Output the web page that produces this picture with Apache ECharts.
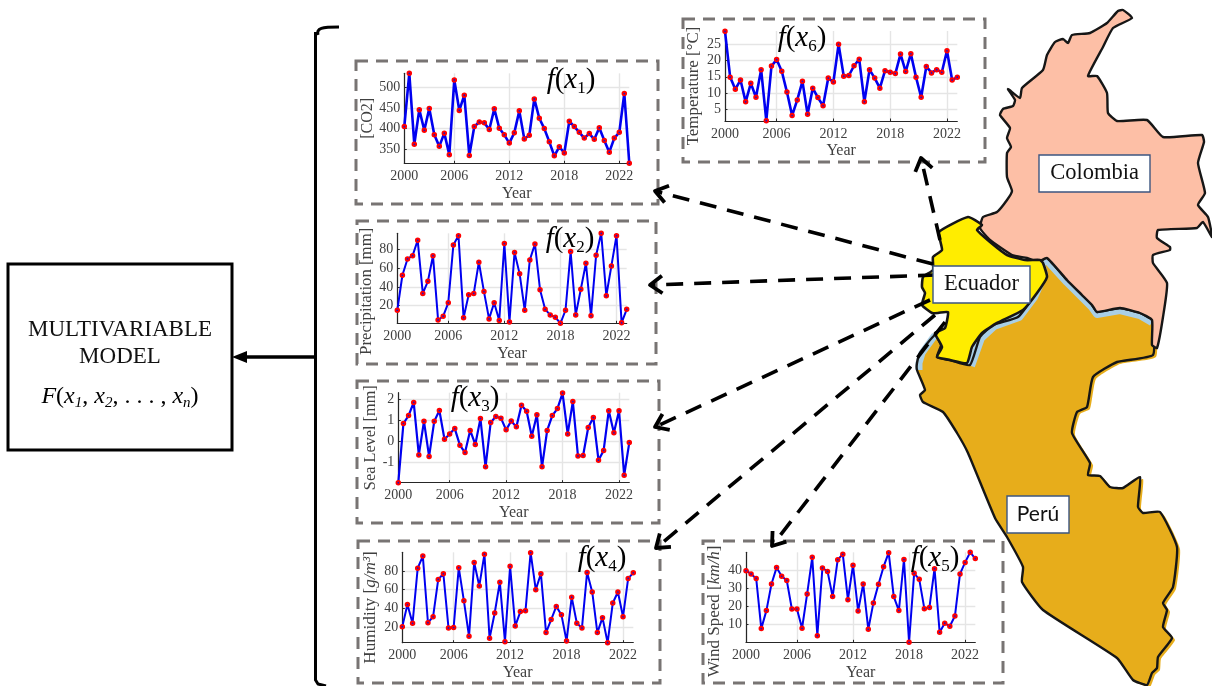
<!DOCTYPE html>
<html><head><meta charset="utf-8">
<style>html,body{margin:0;padding:0;background:#fff}#c{width:1212px;height:686px}</style>
<script src="https://cdn.jsdelivr.net/npm/echarts@6/dist/echarts.min.js"></script>
</head><body><div id="c"></div>
<script>
// ---- data ----
const tickIndex = [0, 10, 21, 32, 43];
const tickYears = ['2000', '2006', '2012', '2018', '2022'];
const co2 = [405,534,362,446,396,449,385,357,389,337,518,444,481,335,405,416,414,398,448,401,385,365,390,443,375,384,472,425,400,368,334,356,341,418,405,391,377,388,374,402,371,343,377,391,485,316];
const precipitation = [15,52.5,70,73.5,90,33,46,73.5,4.6,8.6,23,85,95,7,31.5,33,66.5,35,5.7,23,4,86.5,2.5,77,54,15,69,86,37,16,10,7.5,1,15,78,10,37.5,65.5,9,74,97.5,30.5,62.5,95,1.5,16];
const seaLevel = [-1.94,.85,1.22,1.84,-.63,.95,-.7,.95,1.46,.11,.35,.61,-.17,-.52,.52,-.14,1.08,-1.19,.9,1.18,1.1,.55,.97,.69,1.71,1.43,.25,1.26,-1.19,.52,1.22,1.55,2.28,.36,1.88,-.68,-.66,.66,1.13,-.88,-.42,1.45,.41,1.45,-1.59,-.05];
const humidity = [20.4,44,24,83,96,24.6,31,71,77,19,19.5,83.5,48,10,89,64,98,8,35,68,4.3,85,21,36.5,37.5,99.6,60,77,14,28,42,33,5,52,24,19,78.5,57.5,14,30,3.2,45.7,57.5,31,72,78];
const windSpeed = [39.8,38,35.5,7.6,17.6,32.4,41.5,36.7,34.4,18.5,18.5,7.8,26.9,47.2,3.7,41.3,39.4,25.4,45.9,48.9,23.7,42.8,17.4,32.4,7.2,21.9,32.2,42,49.8,25.4,17.6,46,0,38.3,35,18.7,19.4,40.9,5.6,10.6,8.9,14.6,38,44.4,50,46.5];
const temperature = [29,14.9,11.2,14,7.3,13,8.7,17.2,1.5,18.3,20.3,16.7,10.3,3.1,7.9,13.6,3.5,11.5,8.6,6.1,14.6,13.4,25,15.2,15.4,18.4,20.4,7.3,17.2,14.6,11.5,16.9,16.4,16,22,16.6,22.1,14.9,8.7,18.2,16.2,17.2,16.4,23,14,14.9];

// ---- layout of the six panels ----
const SERIF = '"Liberation Serif","DejaVu Serif",serif';
const panels = [
 {v:co2, x:404.3,r:629.3,t:73.3,b:163.3, min:316,max:534, ticks:[350,400,450,500], name:'[CO2]', size:16, gap:23, pad:0, box:[356,61,658,204], f:['1',571,80], lw:2.6},
 {v:precipitation, x:397.3,r:626.7,t:233.3,b:323.3, min:1,max:97.5, ticks:[20,40,60,80], name:'Precipitation [mm]', size:16.8, gap:21, pad:26, box:[357,221,656,364], f:['2',570,239], lw:2},
 {v:seaLevel, x:398.3,r:629.3,t:392.7,b:482.7, min:-1.94,max:2.3, ticks:[-1,0,1,2], name:'Sea Level [mm]', size:16.3, gap:18, pad:0, box:[357,381,659,523], f:['3',475,398], lw:2.2},
 {v:humidity, x:402.3,r:633.3,t:552.3,b:642.7, min:3.2,max:100, ticks:[20,40,60,80], name:'Humidity [{i|g/m³}]', size:17.2, gap:23, pad:20, box:[358,541,660,683], f:['4',602,558], lw:2},
 {v:windSpeed, x:746,r:975.3,t:552.3,b:642.3, min:0,max:50, ticks:[10,20,30,40], name:'Wind Speed [{i|km/h}]', size:17, gap:23, pad:28, box:[703,541,1003,683], f:['5',935,558], lw:2},
 {v:temperature, x:725,r:957.3,t:31,b:121, min:1.4,max:29.1, ticks:[5,10,15,20,25], name:'Temperature [°C]', size:16.9, gap:23, pad:20, box:[683,19,985,162], f:['6',802,38], lw:2.6}
];

// ---- map outlines (decoration, traced in page pixels) ----
const colombiaShape = [[980,228],[983,217],[997,212],[1007,200],[1012,191],[1007,177],[1007,153],[1011,147],[1007,138],[1010,128],[1000,115],[1003,109],[1013,106],[1015,100],[1008,89],[1020,98],[1022,88],[1043,70],[1047,55],[1055,42],[1063,39],[1068,43],[1072,35],[1090,33],[1107,23],[1118,11],[1123,10],[1132,18],[1113,28],[1103,47],[1088,76],[1097,76],[1107,93],[1108,113],[1117,121],[1147,120],[1163,137],[1202,135],[1204,142],[1198,163],[1205,193],[1198,205],[1208,217],[1212,237],[1203,222],[1197,228],[1158,230],[1157,238],[1170,247],[1170,250],[1153,255],[1153,263],[1167,283],[1163,317],[1157,348],[1152,345],[1152,320],[1140,313],[1120,308],[1097,312],[1092,305],[1082,295],[1067,280],[1047,258],[1038,262],[1027,258],[1012,255],[990,240]];
const ecuadorShape = [[939,232],[968,217],[982,225],[977,230],[990,242],[1007,255],[1025,260],[1040,260],[1043,263],[1047,277],[1037,293],[1023,310],[997,323],[982,333],[972,347],[967,363],[950,360],[937,357],[942,347],[935,333],[945,328],[948,312],[938,313],[932,313],[922,305],[925,293],[922,287],[923,277],[933,270],[933,257],[942,250]];
const peruShape = [[935,335],[920,353],[917,363],[917,370],[925,390],[920,395],[923,402],[943,412],[957,433],[968,453],[995,518],[1007,537],[1023,567],[1022,582],[1043,610],[1117,658],[1133,680],[1147,685],[1152,673],[1157,668],[1158,657],[1172,638],[1163,627],[1167,610],[1163,603],[1173,587],[1177,547],[1160,512],[1143,513],[1138,507],[1140,477],[1123,488],[1110,487],[1100,476],[1088,475],[1090,463],[1072,433],[1077,412],[1087,407],[1093,377],[1117,362],[1153,355],[1152,320],[1140,313],[1120,308],[1097,312],[1092,305],[1082,295],[1067,280],[1047,258],[1040,262],[1043,275],[1033,297],[1018,317],[993,325],[980,337],[970,365],[950,360],[937,357],[941,345]];
const peruHalo = [[935,335],[922,353],[919,363],[919,370]];
const peruNorthHalo = [[1152,322],[1140,315],[1120,310],[1097,314],[1092,307],[1082,297],[1067,282],[1047,260],[1041,263],[1044,275],[1034,297],[1019,317],[994,326],[981,338],[971,366]];
const arrows = [[933,264,655,191],[935,275,650,285],[930,300,655,427],[935,315,656,548],[945,322,772,546],[940,240,921,158]];
const labels = [
 {t:'Colombia',b:[1039,155,1150,192],font:SERIF,size:22.5},
 {t:'Ecuador',b:[933,266,1030,303],font:SERIF,size:22.5},
 {t:'Perú',b:[1007,496,1069,533],font:'Lato,"Noto Sans",sans-serif',size:21}
];

// ---- build ----
const g = [];
const INK = '#161616';
function poly(points, fill, stroke, lw, z, dx=0, dy=0){
  g.push({type:'polygon', z, shape:{points:points.map(p=>[p[0]+dx,p[1]+dy]), smooth:0.15},
    style:{fill:fill||'none', stroke:stroke||'none', lineWidth:lw||0, lineJoin:'round'}});
}
function pline(points, stroke, lw, z, dash){
  g.push({type:'polyline', z, shape:{points}, style:{fill:'none', stroke, lineWidth:lw, lineDash:dash||null, lineCap:'butt', lineJoin:'round'}});
}
// map
poly(peruShape,'#e7ad1b',null,0,3,3,2);
poly(peruShape,'#e7ad1b',null,0,3);
pline(peruHalo,'#a9cfe6',7,4);
pline(peruNorthHalo,'#a9cfe6',8,4);
poly(peruShape,null,INK,2.4,5);
poly(colombiaShape,'#fdbfa6',INK,2.4,6);
poly(ecuadorShape,'#ffed00',INK,2.6,7);
// arrows
arrows.forEach(([x1,y1,x2,y2])=>{
  pline([[x1,y1],[x2,y2]],'#000',3.6,8,[17,11]);
  const a=Math.atan2(y1-y2,x1-x2), L=15, w=0.62;
  pline([[x2+L*Math.cos(a+w),y2+L*Math.sin(a+w)],[x2,y2],[x2+L*Math.cos(a-w),y2+L*Math.sin(a-w)]],'#000',3.8,8);
});
// place labels
labels.forEach(l=>{
  const [a,b,c,d]=l.b;
  g.push({type:'rect',z:9,shape:{x:a,y:b,width:c-a,height:d-b},style:{fill:'#fff',stroke:'#3c5680',lineWidth:1.4}});
  g.push({type:'text',z:10,x:(a+c)/2,y:(b+d)/2,style:{text:l.t,fill:'#111',font:`${l.size}px ${l.font}`,align:'center',verticalAlign:'middle'}});
});
// model box, bracket, arrow
g.push({type:'rect',z:3,shape:{x:8,y:264,width:224,height:186},style:{fill:'#fff',stroke:'#000',lineWidth:3}});
[['MULTIVARIABLE',330],['MODEL',357]].forEach(([t,y])=>g.push({type:'text',z:4,x:120,y,style:{text:t,fill:'#111',font:`23px ${SERIF}`,align:'center',verticalAlign:'middle'}}));
const mathRich = {i:{fontStyle:'italic',fontFamily:SERIF,fontSize:24,color:'#111',lineHeight:28},
  n:{fontFamily:SERIF,fontSize:24,color:'#111',lineHeight:28},
  s:{fontStyle:'italic',fontFamily:SERIF,fontSize:15,color:'#111',verticalAlign:'bottom',lineHeight:28}};
g.push({type:'text',z:4,x:120,y:397,style:{text:'{i|F}{n|(}{i|x}{s|1}{n|, }{i|x}{s|2}{n|, . . . , }{i|x}{s|n}{n|)}',rich:mathRich,align:'center',verticalAlign:'middle'}});
g.push({type:'bezierCurve',z:3,shape:{x1:339,y1:27,x2:318,y2:35,cpx1:322,cpy1:27,cpx2:316,cpy2:28},style:{fill:'none',stroke:'#000',lineWidth:3}});
pline([[315.5,32],[315.5,680],[318,684],[326,686]],'#000',3,3);
pline([[315,357],[245,357]],'#000',3.4,3);
g.push({type:'polygon',z:3,shape:{points:[[232,357],[247,351],[247,363]]},style:{fill:'#000'}});
// panels
const grid=[],xAxis=[],yAxis=[],series=[];
const fRich = {i:{fontStyle:'italic',fontFamily:SERIF,fontSize:29,color:'#222',lineHeight:34},
  n:{fontFamily:SERIF,fontSize:29,color:'#222',lineHeight:34},
  s:{fontFamily:SERIF,fontSize:17,color:'#222',verticalAlign:'bottom',lineHeight:34}};
panels.forEach((p,i)=>{
  const [a,b,c,d]=p.box;
  g.push({type:'rect',z:2,shape:{x:a,y:b,width:c-a,height:d-b},style:{fill:'none',stroke:'#787473',lineWidth:3,lineDash:[12,8]}});
  g.push({type:'text',z:10,x:p.f[1],y:p.f[2],style:{text:`{i|f}{n|(}{i|x}{s|${p.f[0]}}{n|)}`,rich:fRich,align:'center',verticalAlign:'middle'}});
  grid.push({left:p.x,top:p.t,width:p.r-p.x,height:p.b-p.t,containLabel:false});
  xAxis.push({type:'value',gridIndex:i,min:0,max:45,name:'Year',nameLocation:'middle',nameGap:22,
    nameTextStyle:{fontFamily:SERIF,fontSize:16,color:'#404040'},
    axisLine:{show:true,onZero:false,lineStyle:{color:'#262626',width:1.2}},
    axisTick:{show:true,inside:true,length:2.5,customValues:tickIndex,lineStyle:{color:'#262626'}},
    axisLabel:{fontFamily:SERIF,fontSize:14,color:'#404040',margin:6,customValues:tickIndex,
      formatter:v=>tickYears[tickIndex.indexOf(v)]},
    splitLine:{show:true,lineStyle:{color:'#e5e5e5',width:1.4}}});
  yAxis.push({type:'value',gridIndex:i,min:p.min,max:p.max,name:p.name,nameLocation:'middle',nameGap:p.gap,nameRotate:90,
    nameTextStyle:{fontFamily:SERIF,fontSize:p.size,color:'#404040',padding:[0,p.pad,0,0],
      rich:{i:{fontFamily:SERIF,fontStyle:'italic',fontSize:p.size,color:'#404040'}}},
    axisLine:{show:true,onZero:false,lineStyle:{color:'#262626',width:1.2}},
    axisTick:{show:true,inside:true,length:2.5,customValues:p.ticks,lineStyle:{color:'#262626'}},
    axisLabel:{fontFamily:SERIF,fontSize:14,color:'#404040',margin:4,customValues:p.ticks},
    splitLine:{show:true,lineStyle:{color:'#e5e5e5',width:1.4}}});
  series.push({type:'line',xAxisIndex:i,yAxisIndex:i,clip:false,animation:false,z:5,
    data:p.v.map((v,k)=>[k,v]),
    lineStyle:{color:'#0000f0',width:p.lw},
    symbol:'circle',symbolSize:3.6,showSymbol:true,showAllSymbol:true,
    itemStyle:{color:'#2010c8',borderColor:'#ff0000',borderWidth:1.9}});
});
const chart = echarts.init(document.getElementById('c'),null,{renderer:'canvas'});
chart.setOption({animation:false,backgroundColor:'#fff',grid,xAxis,yAxis,series,graphic:{elements:g}});
</script></body></html>
